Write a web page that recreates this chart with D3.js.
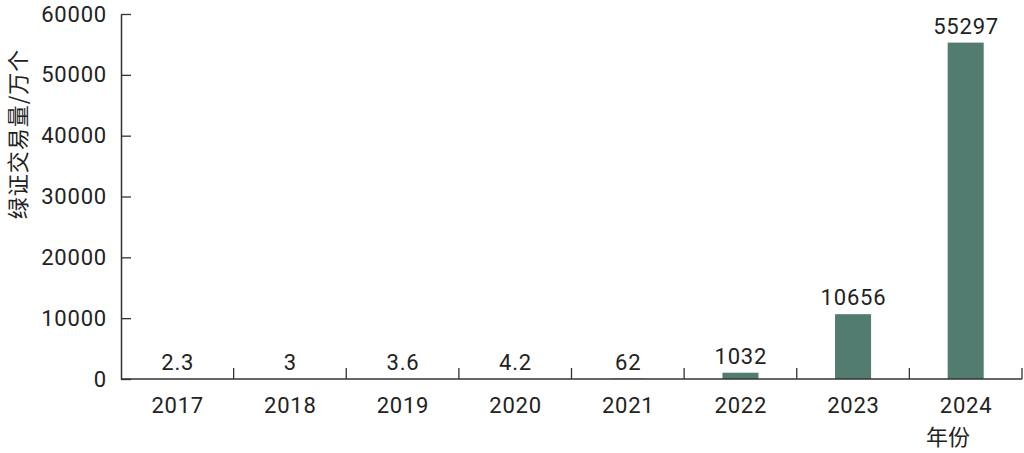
<!DOCTYPE html>
<html><head><meta charset="utf-8">
<script src="https://cdn.jsdelivr.net/npm/d3@7"></script>
<style>body{margin:0;background:#fff;}svg{display:block;font-family:Roboto,"Noto Sans CJK SC",sans-serif;}</style>
</head><body>
<svg id="c" width="1024" height="453"></svg>
<script>
const years = ["2017","2018","2019","2020","2021","2022","2023","2024"];
const values = [2.3, 3, 3.6, 4.2, 62, 1032, 10656, 55297];
const valueLabels = ["2.3","3","3.6","4.2","62","1032","10656","55297"];
const yTicks = [0,10000,20000,30000,40000,50000,60000];
const yTitle = "绿证交易量/万个";
const xTitle = "年份";

(function(){
const svg = d3.select("#c");
const mL = 121, mR = 1022, mT = 14, mB = 379;
const x = d3.scaleBand().domain(years).range([mL, mR]).paddingInner(0.68).paddingOuter(0.34);
const y = d3.scaleLinear().domain([0, 60000]).range([mB, mT]);
const ink = "#222", axisC = "#333", barC = "#527c6f";
const ls = 0.8;

svg.selectAll("rect.bar").data(values).join("rect")
  .attr("x", (d,i)=>x(years[i])).attr("width", x.bandwidth())
  .attr("y", d=>y(d)).attr("height", d=>mB - y(d)).attr("fill", barC);

svg.selectAll("text.val").data(values).join("text")
  .attr("x", (d,i)=>x(years[i]) + x.bandwidth()/2 + ls/2).attr("y", d=>y(d) - 9)
  .attr("text-anchor","middle").attr("font-size",22).attr("letter-spacing",ls).attr("fill",ink)
  .text((d,i)=>valueLabels[i]);

const ya = d3.axisLeft(y).tickValues(yTicks).tickSizeInner(-10).tickSizeOuter(0).tickPadding(14).tickFormat(d3.format("d"));
const yg = svg.append("g").attr("transform",`translate(${mL},0)`).call(ya);
yg.select(".domain").attr("stroke",axisC).attr("stroke-width",1.5);
yg.selectAll(".tick line").attr("stroke",axisC).attr("stroke-width",1.3);
yg.selectAll(".tick text").attr("font-size",22).attr("letter-spacing",ls).attr("fill",ink).attr("font-family","Roboto");

const step = (mR - mL) / years.length;
svg.append("line").attr("x1",mL).attr("x2",mR).attr("y1",mB).attr("y2",mB).attr("stroke",axisC).attr("stroke-width",1.5);
svg.selectAll("line.xt").data(years).join("line")
  .attr("x1",(d,i)=>mL + step*(i+1)).attr("x2",(d,i)=>mL + step*(i+1))
  .attr("y1",mB).attr("y2",mB-11).attr("stroke",axisC).attr("stroke-width",1.3);
svg.selectAll("text.xl").data(years).join("text")
  .attr("x", d=>x(d)+x.bandwidth()/2 + ls/2).attr("y", 413)
  .attr("text-anchor","middle").attr("font-size",22).attr("letter-spacing",ls).attr("fill",ink).text(d=>d);

svg.append("text").attr("x",948).attr("y",445).attr("text-anchor","middle")
  .attr("font-size",22).attr("fill",ink).attr("font-family","'Noto Sans CJK SC'").text(xTitle);
svg.append("text").attr("transform","translate(26,134) rotate(-90)").attr("text-anchor","middle")
  .attr("font-size",22).attr("letter-spacing",1).attr("fill",ink).attr("font-family","'Noto Sans CJK SC'").text(yTitle);
})();
</script>
</body></html>
